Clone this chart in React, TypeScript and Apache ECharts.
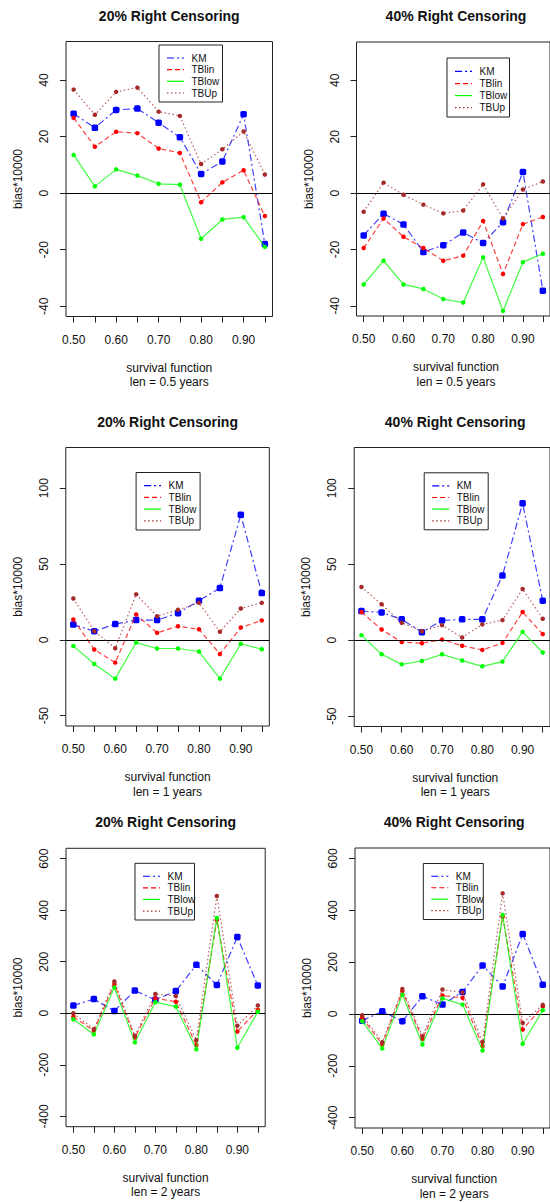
import React, { useEffect, useRef } from "react";
import * as echarts from "echarts";

// Survival-function grid shared by every panel
const survival = [0.5, 0.55, 0.6, 0.65, 0.7, 0.75, 0.8, 0.85, 0.9, 0.95];
const xTickValues = [0.5, 0.55, 0.6, 0.65, 0.7, 0.75, 0.8, 0.85, 0.9, 0.95];
const xLabelValues = [0.5, 0.6, 0.7, 0.8, 0.9];

// Y tick labels per row
const yTicksHalf = [-40, -20, 0, 20, 40];
const yTicksOne = [-50, 0, 50, 100];
const yTicksTwo = [-400, -200, 0, 200, 400, 600];

const seriesNames = ["KM", "TBlin", "TBlow", "TBUp"];

// len = 0.5 years
const km20Half = [28.1, 23.1, 29.4, 29.9, 24.9, 19.8, 6.8, 11.2, 27.9, -18.0];
const tblin20Half = [26.6, 16.4, 21.7, 21.2, 15.8, 14.2, -3.2, 3.8, 8.1, -8.1];
const tblow20Half = [13.5, 2.4, 8.4, 6.2, 3.3, 3.0, -16.1, -9.3, -8.5, -19.0];
const tbup20Half = [36.6, 27.7, 35.8, 37.3, 28.8, 27.3, 10.3, 15.5, 21.8, 6.6];

const km40Half = [-15.0, -7.3, -11.1, -20.9, -18.5, -14.0, -17.7, -10.3, 7.5, -34.6];
const tblin40Half = [-19.5, -9.0, -15.5, -19.5, -24.0, -22.2, -9.9, -28.7, -11.0, -8.5];
const tblow40Half = [-32.4, -24.0, -32.4, -34.0, -37.6, -38.8, -22.8, -41.8, -24.5, -21.5];
const tbup40Half = [-6.6, 3.7, -0.6, -4.1, -7.2, -6.2, 3.1, -9.0, 1.3, 4.1];

// len = 1 year
const km20One = [10.1, 5.7, 10.4, 13.0, 13.0, 17.6, 25.8, 34.1, 82.4, 30.8];
const tblin20One = [13.4, -6.4, -15.0, 16.7, 4.6, 9.0, 7.0, -9.3, 8.1, 12.8];
const tblow20One = [-4.0, -15.9, -25.6, -1.8, -5.7, -5.7, -7.7, -25.6, -2.6, -6.2];
const tbup20One = [27.3, 5.7, -5.5, 30.0, 15.6, 19.8, 24.4, 5.3, 20.7, 24.4];

const km40One = [19.2, 18.3, 13.7, 5.3, 13.0, 13.7, 13.7, 42.5, 90.1, 26.0];
const tblin40One = [18.5, 7.0, -1.3, -2.0, 0.4, -3.7, -6.4, -1.8, 18.5, 4.0];
const tblow40One = [3.3, -9.3, -15.9, -13.7, -9.3, -13.4, -17.2, -14.1, 5.5, -8.1];
const tbup40One = [35.0, 23.6, 11.5, 5.9, 9.9, 1.8, 10.4, 13.2, 33.7, 14.1];

// len = 2 years
const km20Two = [30, 55, 9, 88, 52, 86, 188, 110, 296, 108];
const tblin20Two = [-13, -68, 113, -94, 58, 45, -123, 362, -71, 13];
const tblow20Two = [-23, -82, 100, -113, 43, 26, -140, 370, -134, 6];
const tbup20Two = [0, -62, 123, -87, 75, 67, -104, 455, -48, 30];

const km40Two = [-26, 10, -28, 68, 36, 85, 187, 106, 308, 113];
const tblin40Two = [-15, -118, 87, -96, 71, 62, -124, 375, -60, 29];
const tblow40Two = [-28, -133, 74, -118, 60, 36, -141, 382, -115, 14];
const tbup40Two = [-5, -109, 96, -86, 94, 83, -108, 465, -35, 35];

const FONT = "'Liberation Sans', Arial, Helvetica, sans-serif";
const TEXT = "#111";

const styles = [
  { color: "#0000FF", dash: [7, 3, 2, 3], symbol: "roundRect", size: 6.5 },
  { color: "#FF0000", dash: [5, 3], symbol: "circle", size: 4.5 },
  { color: "#00FF00", dash: "solid", symbol: "circle", size: 4.5 },
  { color: "#A52A2A", dash: [1.5, 2.5], symbol: "circle", size: 4.5 },
];

type Panel = {
  title: string;
  len: string;
  grid: { left: number; top: number; width: number; height: number };
  yMin: number;
  yMax: number;
  yTicks: number[];
  values: number[][];
  legend: { dx: number; dy: number; w: number; h: number };
};

const panels: Panel[] = [
  {
    title: "20% Right Censoring",
    len: "len = 0.5 years",
    grid: { left: 66, top: 41.5, width: 206.5, height: 275 },
    yMin: -43.6, yMax: 53.6, yTicks: yTicksHalf,
    values: [km20Half, tblin20Half, tblow20Half, tbup20Half],
    legend: { dx: 93, dy: 3.5, w: 63.5, h: 57 },
  },
  {
    title: "40% Right Censoring",
    len: "len = 0.5 years",
    grid: { left: 356.5, top: 42, width: 199, height: 274 },
    yMin: -43.6, yMax: 53.6, yTicks: yTicksHalf,
    values: [km40Half, tblin40Half, tblow40Half, tbup40Half],
    legend: { dx: 90.5, dy: 16, w: 62.5, h: 59 },
  },
  {
    title: "20% Right Censoring",
    len: "len = 1 years",
    grid: { left: 65.8, top: 447.5, width: 203.5, height: 278.5 },
    yMin: -56.8, yMax: 126.8, yTicks: yTicksOne,
    values: [km20One, tblin20One, tblow20One, tbup20One],
    legend: { dx: 70.3, dy: 25, w: 64, h: 57.5 },
  },
  {
    title: "40% Right Censoring",
    len: "len = 1 years",
    grid: { left: 354.2, top: 447.5, width: 202, height: 279 },
    yMin: -56.8, yMax: 126.8, yTicks: yTicksOne,
    values: [km40One, tblin40One, tblow40One, tbup40One],
    legend: { dx: 70, dy: 25.3, w: 64, h: 57 },
  },
  {
    title: "20% Right Censoring",
    len: "len = 2 years",
    grid: { left: 66, top: 848.3, width: 199.2, height: 278.4 },
    yMin: -440, yMax: 640, yTicks: yTicksTwo,
    values: [km20Two, tblin20Two, tblow20Two, tbup20Two],
    legend: { dx: 69, dy: 15, w: 59.5, h: 56.7 },
  },
  {
    title: "40% Right Censoring",
    len: "len = 2 years",
    grid: { left: 355, top: 848, width: 198.3, height: 280 },
    yMin: -440, yMax: 640, yTicks: yTicksTwo,
    values: [km40Two, tblin40Two, tblow40Two, tbup40Two],
    legend: { dx: 68.3, dy: 15.5, w: 60, h: 56 },
  },
];

function textEl(text: string, x: number, y: number, font: string, rotation = 0) {
  return {
    type: "text",
    x,
    y,
    rotation,
    z: 100,
    style: {
      text,
      font,
      fill: TEXT,
      align: "center",
      verticalAlign: "middle",
      textAlign: "center",
      textVerticalAlign: "middle",
    },
  };
}

function legendGroup(p: Panel) {
  const { left, top } = p.grid;
  const { dx, dy, w, h } = p.legend;
  const rows = [13, 24.7, 36.3, 48].map((r) => (r * h) / 57);
  const children: any[] = [
    {
      type: "rect",
      shape: { x: 0, y: 0, width: w, height: h },
      style: { fill: "#fff", stroke: "#222", lineWidth: 1 },
    },
  ];
  seriesNames.forEach((name, i) => {
    const s = styles[i];
    children.push({
      type: "line",
      shape: { x1: 8, y1: rows[i], x2: 25, y2: rows[i] },
      style: {
        stroke: s.color,
        lineWidth: 1.2,
        lineDash: s.dash === "solid" ? null : s.dash,
      },
    });
    children.push({
      type: "text",
      x: 32.5,
      y: rows[i],
      style: {
        text: name,
        font: `10px ${FONT}`,
        fill: TEXT,
        align: "left",
        verticalAlign: "middle",
        textAlign: "left",
        textVerticalAlign: "middle",
      },
    });
  });
  return { type: "group", x: left + dx, y: top + dy, z: 100, children };
}

function buildOption() {
  const grid: any[] = [];
  const xAxis: any[] = [];
  const yAxis: any[] = [];
  const series: any[] = [];
  const graphic: any[] = [];

  panels.forEach((p, i) => {
    grid.push({
      ...p.grid,
      show: true,
      borderColor: "#222",
      borderWidth: 1,
      backgroundColor: "transparent",
    });
    xAxis.push({
      type: "value",
      gridIndex: i,
      min: 0.482,
      max: 0.968,
      axisLine: { show: false, onZero: false },
      axisTick: {
        show: true,
        length: 6,
        customValues: xTickValues,
        lineStyle: { color: "#222" },
      },
      axisLabel: {
        customValues: xLabelValues,
        formatter: (v: number) => v.toFixed(2),
        margin: 17,
        fontSize: 12,
        fontFamily: FONT,
        color: TEXT,
      },
      splitLine: { show: false },
    });
    yAxis.push({
      type: "value",
      gridIndex: i,
      min: p.yMin,
      max: p.yMax,
      axisLine: { show: false, onZero: false },
      axisTick: {
        show: true,
        length: 6,
        customValues: p.yTicks,
        lineStyle: { color: "#222" },
      },
      axisLabel: {
        customValues: p.yTicks,
        rotate: 90,
        margin: 16,
        fontSize: 12,
        fontFamily: FONT,
        color: TEXT,
      },
      splitLine: { show: false },
    });

    p.values.forEach((vals, k) => {
      const s = styles[k];
      series.push({
        type: "line",
        name: seriesNames[k],
        xAxisIndex: i,
        yAxisIndex: i,
        data: survival.map((x, j) => [x, vals[j]]),
        symbol: s.symbol,
        symbolSize: s.size,
        showAllSymbol: true,
        itemStyle: { color: s.color },
        lineStyle: {
          color: s.color,
          width: 1.2,
          type: s.dash,
          opacity: 0.75,
        },
        z: 3 + k,
        markLine:
          k === 0
            ? {
                silent: true,
                symbol: ["none", "none"],
                label: { show: false },
                lineStyle: { color: "#000", type: "solid", width: 1 },
                data: [{ yAxis: 0 }],
              }
            : undefined,
      });
    });

    const { left, top, width, height } = p.grid;
    const cx = left + width / 2;
    const bottom = top + height;
    graphic.push(textEl(p.title, cx, top - 26, `bold 14px ${FONT}`));
    graphic.push(textEl("survival function", cx, bottom + 51, `12px ${FONT}`));
    graphic.push(textEl(p.len, cx, bottom + 65.5, `12px ${FONT}`));
    graphic.push(
      textEl("bias*10000", left - 48, top + height / 2, `12px ${FONT}`, Math.PI / 2)
    );
    graphic.push(legendGroup(p));
  });

  return {
    animation: false,
    backgroundColor: "#fff",
    grid,
    xAxis,
    yAxis,
    series,
    graphic,
  };
}

export default function App() {
  const ref = useRef<HTMLDivElement>(null);

  useEffect(() => {
    if (!ref.current) return;
    const chart = echarts.init(ref.current, undefined, { renderer: "svg" });
    chart.setOption(buildOption() as any);
    return () => chart.dispose();
  }, []);

  return (
    <div
      ref={ref}
      style={{ position: "absolute", left: 0, top: 0, width: 550, height: 1202 }}
    />
  );
}
